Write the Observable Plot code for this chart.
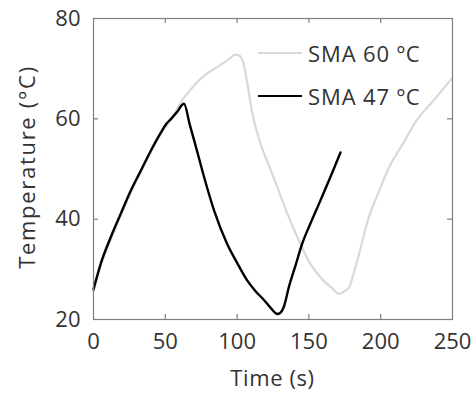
<!DOCTYPE html>
<html>
<head>
<meta charset="utf-8">
<script src="https://cdn.jsdelivr.net/npm/d3@7"></script>
<script src="https://cdn.jsdelivr.net/npm/@observablehq/plot@0.6"></script>
<style>
  html, body { margin: 0; padding: 0; background: #fff; }
  #wrap { position: relative; width: 472px; height: 396px; font-family: "Open Sans", sans-serif; }
  .leg { position: absolute; left: 258px; display: flex; align-items: center; font-size: 22px; letter-spacing: 0.9px; color: #333; white-space: nowrap; }
  .leg .sw { width: 44px; height: 0; border-top-style: solid; margin-right: 6px; }
</style>
</head>
<body>
<div id="wrap"></div>
<script>
// Series names
const seriesNames = ["SMA 60 ºC", "SMA 47 ºC"];
const seriesColors = ["#d9d9d9", "#000000"];

// SMA 60 ºC (grey)
const t60 = [0, 5, 12, 19, 26, 33, 40, 47, 54, 62, 70, 77, 86, 93, 99, 101, 104, 107, 110.5, 116, 122, 128, 135, 142, 151, 160, 166, 171, 175, 178, 181, 185, 191, 198, 207, 214, 225, 237, 250];
const T60 = [25.6, 30.6, 35.9, 40.7, 45.3, 49.4, 53.4, 57.0, 59.8, 63.8, 66.6, 68.6, 70.3, 71.6, 72.8, 72.7, 71.5, 67.3, 61.3, 55.3, 50.8, 46.4, 41.1, 36.4, 31.1, 27.8, 26.3, 25.1, 25.7, 26.4, 29.0, 33.1, 39.7, 45.0, 51.0, 54.3, 59.7, 63.7, 68.2];

// SMA 47 ºC (black)
const t47 = [0, 5, 12, 19, 26, 33, 40, 47, 51, 54, 58, 63, 67, 72, 77, 84, 93, 100, 107, 113, 119, 124, 128, 130, 132.5, 136, 140.7, 145.3, 151, 158, 165, 172];
const T47 = [26, 31.1, 36.4, 41.1, 45.7, 49.7, 53.7, 57.3, 59.1, 60.0, 61.3, 63.0, 58.9, 53.7, 48.4, 41.7, 35.1, 31.3, 27.8, 25.6, 23.8, 22.1, 21.1, 21.3, 22.5, 26.4, 30.8, 35.1, 39.1, 43.7, 48.4, 53.3];

// Axis ticks
const xTicks = [0, 50, 100, 150, 200, 250];
const yTicks = [20, 40, 60, 80];

const data60 = t60.map((t, i) => ({t, T: T60[i]}));
const data47 = t47.map((t, i) => ({t, T: T47[i]}));

const axisColor = "#7f7f7f";
const textColor = "#333";

const W = 472, H = 396, mL = 93, mR = 20, mT = 18, mB = 77;
const plotW = W - mL - mR, plotH = H - mT - mB;
const tk = 5;
const innerX = xTicks.slice(1, -1);
const innerY = yTicks.slice(1, -1);

const chart = Plot.plot({
  width: W,
  height: H,
  marginLeft: mL,
  marginRight: mR,
  marginTop: mT,
  marginBottom: mB,
  style: {fontFamily: "'Open Sans', sans-serif", fontSize: "22px", color: textColor, background: "#fff"},
  x: {domain: [0, 250]},
  y: {domain: [20, 80]},
  marks: [
    Plot.line(data60, {x: "t", y: "T", stroke: seriesColors[0], strokeWidth: 2.2, curve: "monotone-x"}),
    Plot.line(data47, {x: "t", y: "T", stroke: seriesColors[1], strokeWidth: 2.4, curve: "monotone-x"}),
    // inward ticks
    Plot.tickX(innerX, {x: d => d, insetTop: plotH - tk, stroke: axisColor, strokeWidth: 1.2}),
    Plot.tickX(innerX, {x: d => d, insetBottom: plotH - tk, stroke: axisColor, strokeWidth: 1.2}),
    Plot.tickY(innerY, {y: d => d, insetRight: plotW - tk, stroke: axisColor, strokeWidth: 1.2}),
    Plot.tickY(innerY, {y: d => d, insetLeft: plotW - tk, stroke: axisColor, strokeWidth: 1.2}),
    Plot.frame({stroke: axisColor, strokeWidth: 1.2}),
    // tick labels
    Plot.axisX({ticks: xTicks, tickSize: 0, tickPadding: 14, fill: textColor, label: null, tickFormat: d => d}),
    Plot.axisY({ticks: yTicks, tickSize: 0, tickPadding: 13, fill: textColor, label: null, tickFormat: d => d})
  ]
});

const wrap = document.getElementById("wrap");
wrap.appendChild(chart);

// Axis titles as overlay text
const xt = document.createElement("div");
xt.textContent = "Time (s)";
Object.assign(xt.style, {position: "absolute", left: "93px", width: "359px", top: "362px", textAlign: "center", fontSize: "22px", letterSpacing: "0.6px", color: textColor});
wrap.appendChild(xt);

const yt = document.createElement("div");
yt.textContent = "Temperature (°C)";
Object.assign(yt.style, {position: "absolute", left: "26px", top: "167px", fontSize: "22px", letterSpacing: "1.7px", color: textColor, whiteSpace: "nowrap", transform: "translate(-50%, -50%) rotate(-90deg)"});
wrap.appendChild(yt);

// Legend
const legTops = [52.5, 95.5];
seriesNames.forEach((name, i) => {
  const row = document.createElement("div");
  row.className = "leg";
  row.style.top = (legTops[i] - 16) + "px";
  row.style.height = "32px";
  const sw = document.createElement("span");
  sw.className = "sw";
  sw.style.borderTopColor = seriesColors[i];
  sw.style.borderTopWidth = "2.5px";
  const tx = document.createElement("span");
  tx.textContent = name;
  row.appendChild(sw);
  row.appendChild(tx);
  wrap.appendChild(row);
});
</script>
</body>
</html>
